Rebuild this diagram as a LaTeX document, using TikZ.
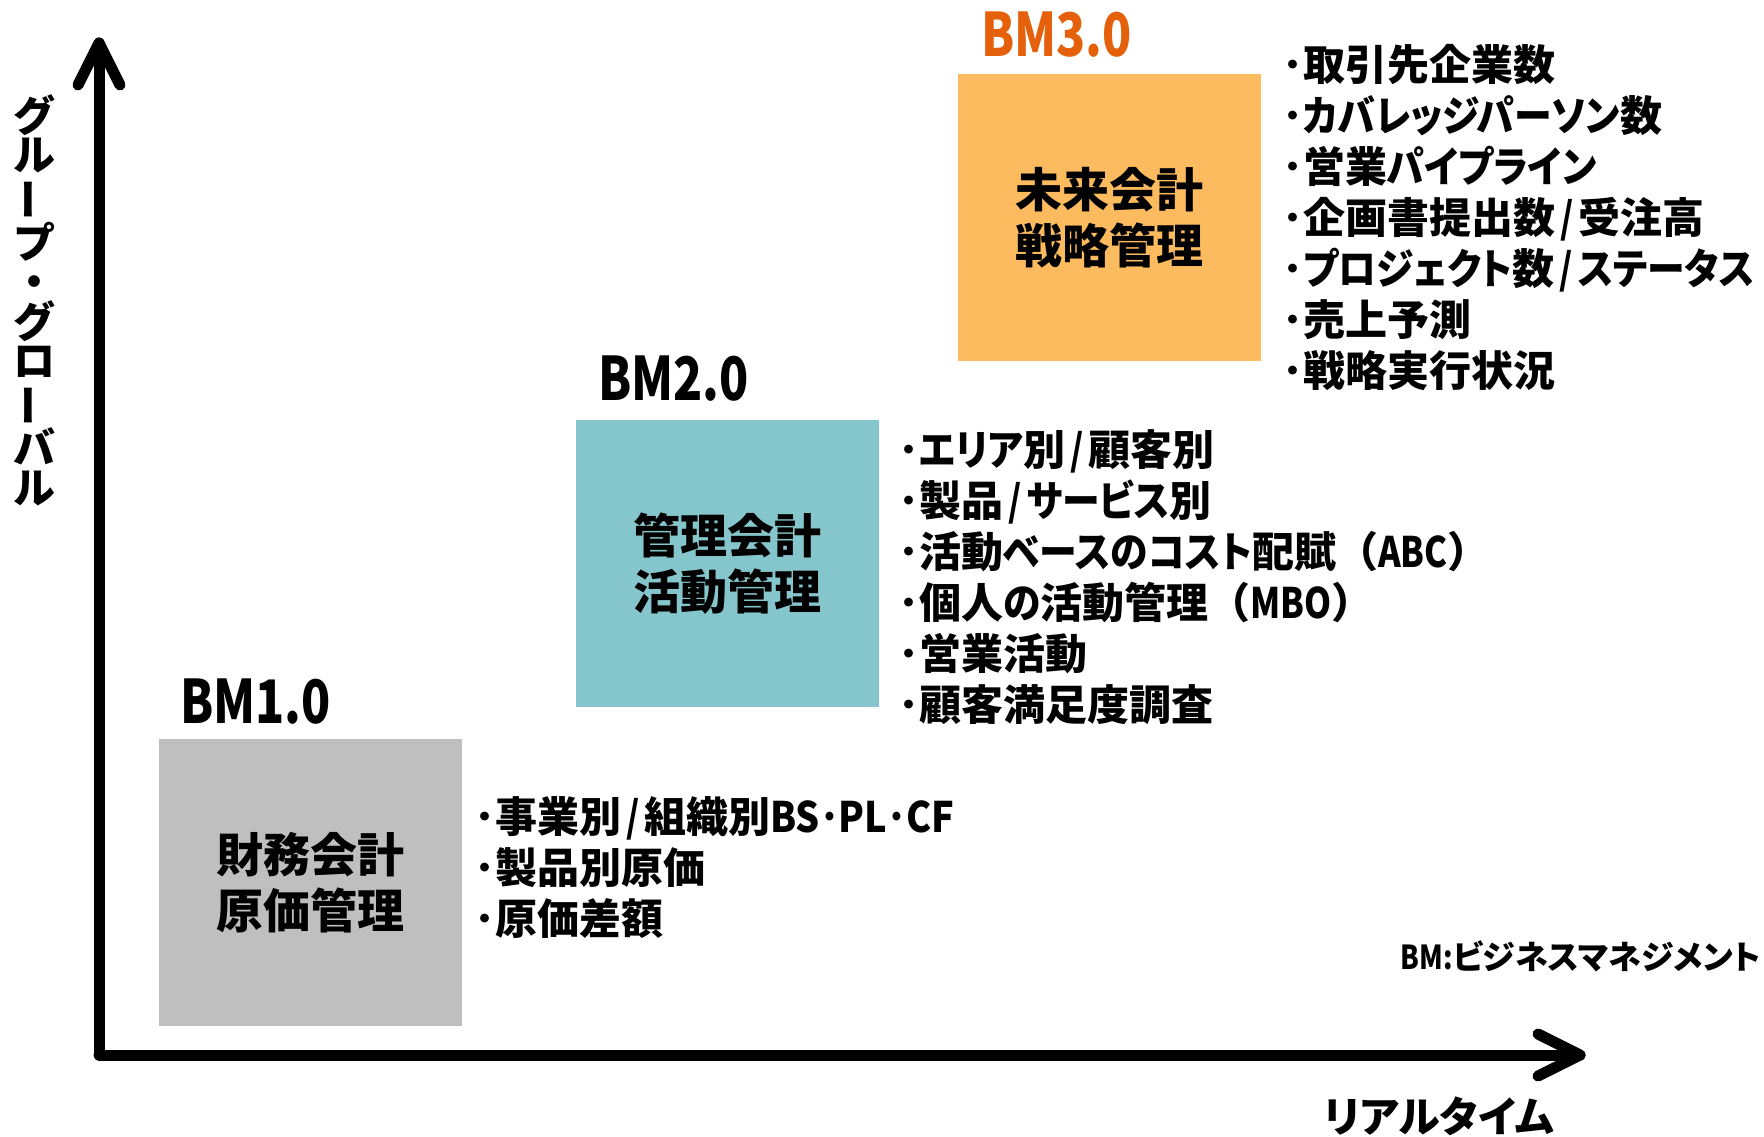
\documentclass[tikz,border=0pt]{standalone}
\usepackage{fontspec}
\usetikzlibrary{calc}
\newfontfamily\jpb{Noto Sans CJK JP Black}[RawFeature=+palt]
\newfontfamily\jpbfull{Noto Sans CJK JP Black}
\newfontfamily\jpk{Noto Sans CJK JP Black}[RawFeature=+palt, FakeStretch=0.9]
\newfontfamily\latb{Noto Sans CJK JP Black}[FakeStretch=0.82]
\newfontfamily\latbm{Noto Sans CJK JP Black}[FakeStretch=0.8]
\newfontfamily\latc{Noto Sans CJK JP Black}[FakeStretch=0.9]
\newcommand\narrowlat[1]{{\latb #1}}
\newcommand\kn[1]{{\jpk #1}}
\newcommand\slsh{\hspace{5pt}{\latb /}\hspace{5pt}}
\definecolor{bmorange}{HTML}{E4600A}
\definecolor{boxgray}{HTML}{BFBFBF}
\definecolor{boxteal}{HTML}{85C6CC}
\definecolor{boxorange}{HTML}{FCBB5E}
\tikzset{
  axis/.style={line width=11pt, line cap=round, line join=round},
  stagebox/.style={minimum width=303pt, minimum height=287pt, inner sep=0pt, align=center,
     font=\jpb\fontsize{47}{56}\selectfont},
  bmlabel/.style={anchor=base west, inner sep=0pt, font=\latbm\fontsize{60}{60}\selectfont},
  itemlist/.style={anchor=west, inner sep=0pt, align=left, font=\jpb\fontsize{42}{51}\selectfont},
}
\begin{document}
\begin{tikzpicture}[x=1pt,y=-1pt]
\useasboundingbox (0,0) rectangle (1764,1136);
% axes
\coordinate (O) at (99,1055);
\coordinate (ytip) at (99,43);
\coordinate (xtip) at (1580,1055);
\draw[axis] (O) -- (ytip);
\draw[axis] (O) -- (xtip);
\draw[axis] ($(ytip)+(-21,42)$) -- (ytip) -- ($(ytip)+(21,42)$);
\draw[axis] ($(xtip)+(-42,-21)$) -- (xtip) -- ($(xtip)+(-42,21)$);
% axis labels
\node[inner sep=0pt, align=center, font=\jpbfull\fontsize{42}{39.4}\selectfont] (ylab) at (34,300)
  {グ\\ル\\\rotatebox[origin=c]{90}{ー}\\プ\\・\\グ\\ロ\\\rotatebox[origin=c]{90}{ー}\\バ\\ル};
\node[inner sep=0pt, anchor=center, font=\jpb\fontsize{42}{42}\selectfont] (xlab) at (1439,1116) {リアルタイム};
\node[inner sep=0pt, anchor=east, font=\jpb\fontsize{33}{33}\selectfont] (note) at (1761,956) {\narrowlat{BM:}ビジネスマネジメント};
% stage boxes
\node[stagebox, fill=boxgray] (b1) at (310.5,882.5) {財務会計\\原価管理};
\node[stagebox, fill=boxteal] (b2) at (727.5,563.5) {管理会計\\活動管理};
\node[stagebox, fill=boxorange] (b3) at (1109.5,217.5) {未来会計\\戦略管理};
% stage labels
\node[bmlabel] (l1) at (180,723) {BM1.0};
\node[bmlabel] (l2) at (598,400) {BM2.0};
\node[bmlabel, text=bmorange] (l3) at (981,56) {BM3.0};
% item lists
\node[itemlist] (i1) at (474,868) {･事業別\slsh 組織別{\latc BS･PL･CF}\\･製品別原価\\･原価差額};
\node[itemlist] (i2) at (898,577.5) {･\kn{エリア}別\slsh 顧客別\\･製品\slsh\kn{サービス}別\\･活動\kn{ベースのコスト}配賦{\jpbfull（}\narrowlat{ABC}{\jpbfull）}\\･個人\kn{の}活動管理{\jpbfull（}\narrowlat{MBO}{\jpbfull）}\\･営業活動\\･顧客満足度調査};
\node[itemlist] (i3) at (1282,217) {･取引先企業数\\･\kn{カバレッジパーソン}数\\･営業\kn{パイプライン}\\･企画書提出数\slsh 受注高\\･\kn{プロジェクト}数\slsh\kn{ステータス}\\･売上予測\\･戦略実行状況};
\end{tikzpicture}
\end{document}
